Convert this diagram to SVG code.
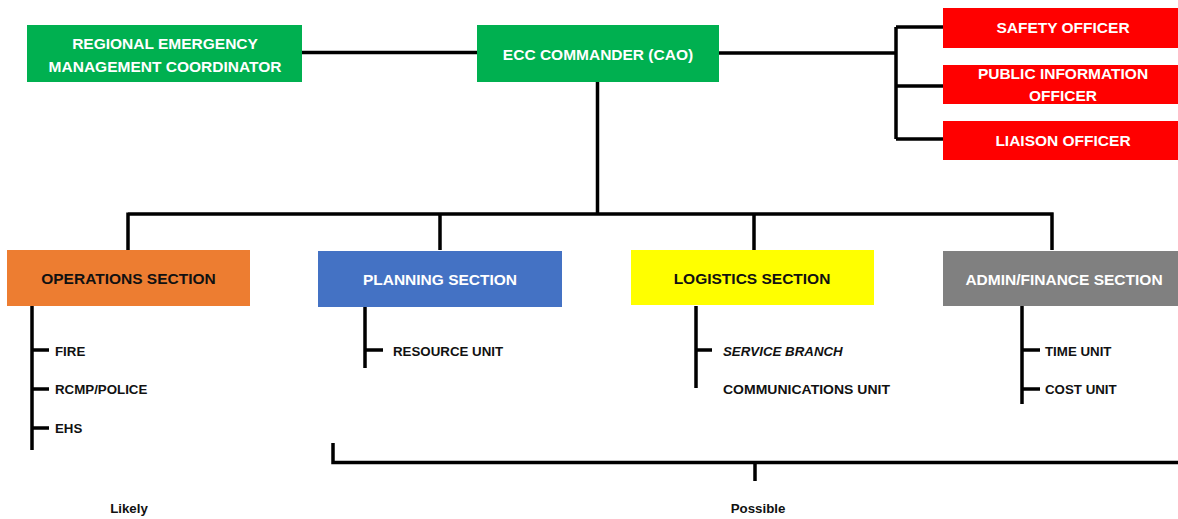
<svg xmlns="http://www.w3.org/2000/svg" width="1178" height="519" viewBox="0 0 1178 519">
<style>
.ln{stroke:#000;stroke-width:3.5;fill:none;stroke-linecap:butt}
.bt{font-family:"Liberation Sans",Arial,sans-serif;font-weight:bold;font-size:15.5px;text-anchor:middle}
.w{fill:#fff}
.k{fill:#111}
.st{font-family:"Liberation Sans",Arial,sans-serif;font-weight:bold;font-size:13.3px;fill:#111}
</style>
<rect width="1178" height="519" fill="#fff"/>
<g id="connectors">
<path class="ln" d="M302 52.5H477"/>
<path class="ln" d="M719 53H896M896 27V139M896 27H943M896 86H943M896 139H943"/>
<path class="ln" d="M597.5 82V214M128 214H1053.5M128 212.5V250M440 212.5V250M754 212.5V250M1052 212.5V250"/>
<path class="ln" d="M32 306V450M32 350H49M32 389H49M32 428H49"/>
<path class="ln" d="M365 307V368M365 350H383"/>
<path class="ln" d="M696 306V388M696 350H712"/>
<path class="ln" d="M1022 306V404M1022 350H1040M1022 389H1040"/>
<path class="ln" d="M333 443V462.5H1178M755 462.5V481"/>
</g>
<g id="regional">
<rect x="27" y="25" width="275" height="57" fill="#00B050"/>
<text class="bt w" x="165" y="49">REGIONAL EMERGENCY</text>
<text class="bt w" x="165" y="72">MANAGEMENT COORDINATOR</text>
</g>
<g id="ecc">
<rect x="477" y="25" width="242" height="57" fill="#00B050"/>
<text class="bt w" x="598" y="60">ECC COMMANDER (CAO)</text>
</g>
<g id="safety">
<rect x="943" y="8" width="240" height="40" fill="#FF0000"/>
<text class="bt w" x="1063" y="33">SAFETY OFFICER</text>
</g>
<g id="pio">
<rect x="943" y="65" width="240" height="39" fill="#FF0000"/>
<text class="bt w" x="1063" y="79">PUBLIC INFORMATION</text>
<text class="bt w" x="1063" y="101">OFFICER</text>
</g>
<g id="liaison">
<rect x="943" y="121" width="240" height="39" fill="#FF0000"/>
<text class="bt w" x="1063" y="146">LIAISON OFFICER</text>
</g>
<g id="operations">
<rect x="7" y="250" width="243" height="56" fill="#ED7D31"/>
<text class="bt k" x="128.5" y="284">OPERATIONS SECTION</text>
</g>
<g id="planning">
<rect x="318" y="251" width="244" height="56" fill="#4472C4"/>
<text class="bt w" x="440" y="285">PLANNING SECTION</text>
</g>
<g id="logistics">
<rect x="631" y="250" width="243" height="55" fill="#FFFF00"/>
<text class="bt k" x="752" y="284">LOGISTICS SECTION</text>
</g>
<g id="admin">
<rect x="943" y="251" width="243" height="55" fill="#808080"/>
<text class="bt w" x="1064" y="285">ADMIN/FINANCE SECTION</text>
</g>
<g id="ops-units">
<text class="st" x="55" y="356">FIRE</text>
<text class="st" x="55" y="394">RCMP/POLICE</text>
<text class="st" x="55" y="433">EHS</text>
</g>
<g id="plan-units">
<text class="st" x="393" y="356">RESOURCE UNIT</text>
</g>
<g id="log-units">
<text class="st" x="723" y="356" font-style="italic">SERVICE BRANCH</text>
<text class="st" x="723" y="394" textLength="167" lengthAdjust="spacingAndGlyphs">COMMUNICATIONS UNIT</text>
</g>
<g id="admin-units">
<text class="st" x="1045" y="356">TIME UNIT</text>
<text class="st" x="1045" y="394">COST UNIT</text>
</g>
<g id="labels">
<text class="st" x="129" y="513" text-anchor="middle" font-size="13px">Likely</text>
<text class="st" x="758" y="513" text-anchor="middle" font-size="13px">Possible</text>
</g>
</svg>
